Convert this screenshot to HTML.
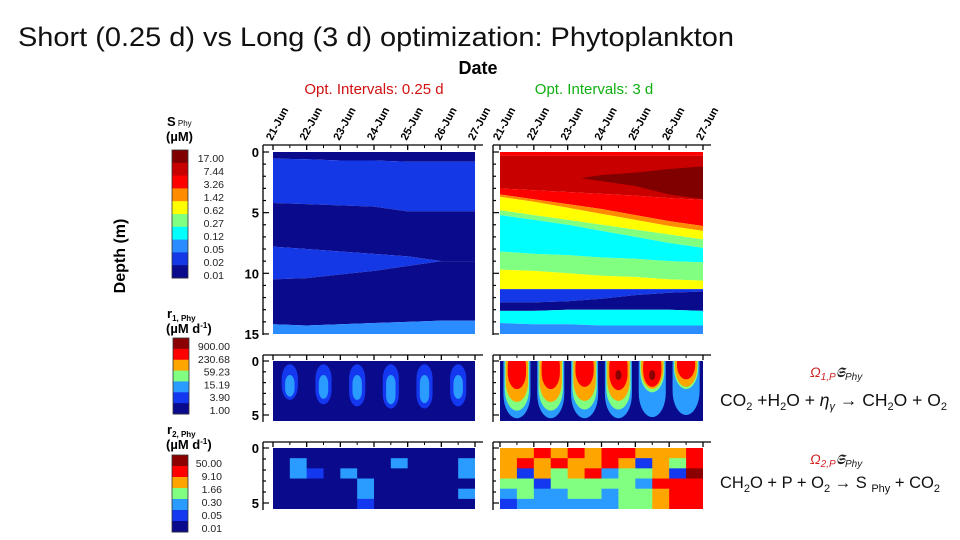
<!DOCTYPE html>
<html><head><meta charset="utf-8">
<style>
html,body{margin:0;padding:0;background:#fff;}
svg{display:block;font-family:"Liberation Sans",sans-serif;}
</style></head>
<body>
<svg id="chart" width="960" height="540" viewBox="0 0 960 540">
<text x="18" y="46" font-size="27" fill="#111" textLength="716" lengthAdjust="spacingAndGlyphs">Short (0.25 d) vs Long (3 d) optimization: Phytoplankton</text>
<text x="478" y="74" font-size="18" font-weight="bold" text-anchor="middle">Date</text>
<text x="374" y="94" font-size="15" fill="#d01010" text-anchor="middle">Opt. Intervals: 0.25 d</text>
<text x="594" y="94" font-size="15" fill="#10b010" text-anchor="middle">Opt. Intervals: 3 d</text>
<text transform="translate(125,256) rotate(-90)" font-size="16" font-weight="bold" text-anchor="middle">Depth (m)</text>
<g id="plots"></g>
<g id="legends"></g>
<g>
<text x="810" y="377" font-size="14" fill="#d02020" font-style="italic">Ω<tspan font-size="10" dy="3">1,P</tspan><tspan fill="#222" dy="-3" font-size="14">𝕾</tspan><tspan fill="#222" font-size="10" dy="3">Phy</tspan></text>
<text x="720" y="406" font-size="17.5" fill="#111">CO<tspan font-size="11" dy="4">2</tspan><tspan dy="-4"> +H</tspan><tspan font-size="11" dy="4">2</tspan><tspan dy="-4">O + </tspan><tspan font-style="italic">η</tspan><tspan font-size="11" dy="4" font-style="italic">γ</tspan><tspan dy="-4"> → CH</tspan><tspan font-size="11" dy="4">2</tspan><tspan dy="-4">O + O</tspan><tspan font-size="11" dy="4">2</tspan></text>
</g>
<g>
<text x="810" y="464" font-size="14" fill="#d02020" font-style="italic">Ω<tspan font-size="10" dy="3">2,P</tspan><tspan fill="#222" dy="-3" font-size="14">𝕾</tspan><tspan fill="#222" font-size="10" dy="3">Phy</tspan></text>
<text x="720" y="488" font-size="16.5" fill="#111">CH<tspan font-size="11" dy="4">2</tspan><tspan dy="-4">O + P + O</tspan><tspan font-size="11" dy="4">2</tspan><tspan dy="-4"> → S </tspan><tspan font-size="11" dy="4">Phy</tspan><tspan dy="-4"> + CO</tspan><tspan font-size="11" dy="4">2</tspan></text>
</g>
</svg>
<script>
// ---------- data ----------
const days = [21,22,23,24,25,26,27];
const dayLabels = ["21-Jun","22-Jun","23-Jun","24-Jun","25-Jun","26-Jun","27-Jun"];
const sColors = ["#0a0a8c","#1438e6","#2a8cff","#00ffff","#80ff80","#ffff00","#ff8c00","#ff0000","#c80000","#800000"];
const sLabels = ["17.00","7.44","3.26","1.42","0.62","0.27","0.12","0.05","0.02","0.01"];
const rColors = ["#0a0a8c","#1438f0","#2a9cff","#80ff80","#ffa500","#ff0000","#8b0000"];
const r1Labels = ["900.00","230.68","59.23","15.19","3.90","1.00"];
const r2Labels = ["50.00","9.10","1.66","0.30","0.05","0.01"];
// short S_Phy: layer levels and layer top depths at each day
const shortLevels = [0,1,0,1,0,2];
const shortTops = [
 [0,0,0,0,0,0,0],
 [0.55,0.6,0.7,0.7,0.8,0.8,0.8],
 [4.2,4.3,4.4,4.5,4.9,4.9,4.9],
 [7.8,8.0,8.2,8.4,8.6,9.0,9.0],
 [10.5,10.4,10.1,9.8,9.4,9.0,9.0],
 [14.2,14.3,14.2,14.1,14.0,13.9,13.9]
];
// long S_Phy
const longLevels = [7,8,7,6,5,4,3,4,5,1,0,3,2];
const longTops = [
 [0,0,0,0,0,0,0],
 [0.3,0.3,0.3,0.3,0.3,0.3,0.3],
 [3.0,3.15,3.3,3.45,3.6,3.8,3.95],
 [3.5,3.9,4.3,4.7,5.2,5.7,6.1],
 [3.7,4.1,4.6,5.1,5.6,6.1,6.5],
 [4.8,5.2,5.6,6.0,6.4,6.8,7.2],
 [5.2,5.6,6.0,6.5,7.0,7.5,7.9],
 [8.2,8.4,8.5,8.7,8.8,9.0,9.1],
 [9.7,9.8,10.0,10.2,10.3,10.5,10.6],
 [11.3,11.3,11.3,11.3,11.3,11.3,11.3],
 [12.4,12.4,12.3,12.1,11.8,11.6,11.5],
 [13.1,13.1,13.0,13.0,13.0,13.0,13.1],
 [14.1,14.2,14.2,14.3,14.3,14.3,14.3]
];
const longMaxDays = [23.4,24,25,26,27];
const longMaxTop = [2.15,1.9,1.7,1.4,1.2];
const longMaxBottom = [2.15,2.4,2.8,3.5,3.9];
// r1 blobs (daily production maxima)
const r1Centers = [21.5,22.5,23.5,24.5,25.5,26.5];
const r1ShortOuter = [3.6,4.0,4.2,4.4,4.4,4.2];
const r1ShortInner = [3.0,3.2,3.3,3.7,3.6,3.2];
const r1LongLightBlue = [5.3,5.3,5.3,5.3,5.2,5.0];
const r1LongGreen = [4.6,4.6,4.5,4.5,2.9,2.6];
const r1LongOrange = [3.8,3.8,3.7,3.7,2.6,2.4];
const r1LongRed = [2.6,2.6,2.4,2.7,2.4,1.7];
const r1LongDark = [0,0,0,1.3,1.3,0];
// r2 grids (rows of level indices, 12 half-day columns)
const r2Short = ["000000000000","020000020002","021020000002","000002000000","000002000002","000001000000"];
const r2Long = ["445454554445","454544541435","414345233416","331333332555","232233233455","122222233455"];

// ---------- helpers ----------
const NS="http://www.w3.org/2000/svg";
const plots=document.getElementById('plots');
const legends=document.getElementById('legends');
function mk(tag,attrs,parent){const e=document.createElementNS(NS,tag);for(const k in attrs)e.setAttribute(k,attrs[k]);parent.appendChild(e);return e;}
function scaleX(p,d){return p.x0+(d-21)/6*(p.x1-p.x0);}
function scaleY(p,z){return p.y0+z*p.py;}
const panels={
 shortTop:{x0:273,x1:475,y0:152,py:12.13,maxZ:15,fx:263,fy:145},
 longTop:{x0:500,x1:703,y0:152,py:12.13,maxZ:15,fx:493,fy:145},
 shortR1:{x0:273,x1:475,y0:361,py:10.8,maxZ:5.55,fx:263,fy:355},
 longR1:{x0:500,x1:703,y0:361,py:10.8,maxZ:5.55,fx:493,fy:355},
 shortR2:{x0:273,x1:475,y0:448,py:11,maxZ:5.55,fx:263,fy:442},
 longR2:{x0:500,x1:703,y0:448,py:11,maxZ:5.55,fx:493,fy:442}
};
function clipFor(p,id){
 const c=mk('clipPath',{id:id},plots);
 mk('rect',{x:p.x0,y:p.y0,width:p.x1-p.x0,height:p.maxZ*p.py},c);
 const g=mk('g',{'clip-path':'url(#'+id+')'},plots);
 return g;
}
function layers(p,g,levels,tops,name){
 for(let i=0;i<levels.length;i++){
  const top=tops[i];
  const bot=i+1<tops.length?tops[i+1]:days.map(()=>p.maxZ);
  let pts=[];
  days.forEach((d,j)=>pts.push(scaleX(p,d)+','+scaleY(p,top[j])));
  for(let j=days.length-1;j>=0;j--)pts.push(scaleX(p,days[j])+','+scaleY(p,bot[j]));
  const e=mk('polygon',{points:pts.join(' '),fill:sColors[levels[i]]},g);
  
  
 }
}
function frame(p,name,labels,showX){
 const g=mk('g',{},plots);
 
 
 const bottom=scaleY(p,p.maxZ);
 mk('line',{x1:p.fx,y1:p.fy,x2:p.x1+8,y2:p.fy,stroke:'#000','stroke-width':1.3},g);
 mk('line',{x1:p.fx,y1:p.fy,x2:p.fx,y2:bottom+1,stroke:'#000','stroke-width':1.3},g);
 days.forEach((d,i)=>{
  const x=scaleX(p,d);
  mk('line',{x1:x,y1:p.fy,x2:x,y2:p.fy+5,stroke:'#000','stroke-width':1.3},g);
  if(i<6)mk('line',{x1:x+(p.x1-p.x0)/12,y1:p.fy,x2:x+(p.x1-p.x0)/12,y2:p.fy+3,stroke:'#000','stroke-width':1},g);
  if(showX){
   const t=mk('text',{transform:'translate('+(x-1)+','+(p.fy-4)+') rotate(-62)','font-size':11,'font-weight':'bold'},g);
   t.textContent=dayLabels[i];
   
   
  }
 });
 for(let z=0;z<=p.maxZ;z+=1){
  const y=scaleY(p,z);
  const major=z%5===0;
  mk('line',{x1:p.fx,y1:y,x2:p.fx+(major?6:3),y2:y,stroke:'#000','stroke-width':1.2},g);
  if(major&&labels){
   const t=mk('text',{x:p.fx-4,y:y+5,'font-size':13,'font-weight':'bold','text-anchor':'end'},g);
   t.textContent=z;
   
   
  }
 }
}
// U-shaped blob: flat (clipped) top, rounded bottom
function ublob(p,g,cx,hw,z0,z1,color,name){
 const w=hw*2*(p.x1-p.x0)/6;
 const y0=scaleY(p,z0),y1=scaleY(p,z1);
 const h=y1-y0;
 const e=mk('rect',{x:scaleX(p,cx)-w/2,y:y0,width:w,height:h,rx:w/2,ry:Math.min(h/2,w*0.9),fill:color},g);
 
 
}
function grid(p,g,rows,name){
 const nr=rows.length,nc=rows[0].length;
 const cw=(p.x1-p.x0)/nc,rh=p.maxZ*p.py/nr;
 rows.forEach((row,r)=>{for(let c=0;c<nc;c++){
  const e=mk('rect',{x:p.x0+c*cw,y:p.y0+r*rh,width:cw+0.6,height:rh+0.6,fill:rColors[+row[c]]},g);
  
  
 }});
}

// ---------- S_Phy panels ----------
let g=clipFor(panels.shortTop,'c1');


layers(panels.shortTop,g,shortLevels,shortTops,'short-sphy');
g=clipFor(panels.longTop,'c2');


layers(panels.longTop,g,longLevels,longTops,'long-sphy');
{
 const p=panels.longTop;let pts=[];
 longMaxDays.forEach((d,j)=>pts.push(scaleX(p,d)+','+scaleY(p,longMaxTop[j])));
 for(let j=longMaxDays.length-1;j>=0;j--)pts.push(scaleX(p,longMaxDays[j])+','+scaleY(p,longMaxBottom[j]));
 const e=mk('polygon',{points:pts.join(' '),fill:sColors[9]},g);
 
 
}
// ---------- r1 panels ----------
g=clipFor(panels.shortR1,'c3');


mk('rect',{x:273,y:361,width:202,height:60,fill:rColors[0]},g);
r1Centers.forEach((c,i)=>{
 ublob(panels.shortR1,g,c,0.24,0.3,r1ShortOuter[i],rColors[1],'short-r1-blob');
 ublob(panels.shortR1,g,c,0.14,1.3,r1ShortInner[i]+0.3,rColors[2],'short-r1-core');
});
g=clipFor(panels.longR1,'c4');


mk('rect',{x:500,y:361,width:203,height:60,fill:rColors[0]},g);
r1Centers.forEach((c,i)=>{
 ublob(panels.longR1,g,c,0.4,-2,r1LongLightBlue[i],rColors[2],'long-r1-lightblue');
 ublob(panels.longR1,g,c,0.36,-2,r1LongGreen[i],rColors[3],'long-r1-green');
 ublob(panels.longR1,g,c,0.33,-2,r1LongOrange[i],rColors[4],'long-r1-orange');
 ublob(panels.longR1,g,c,0.27,-1,r1LongRed[i],rColors[5],'long-r1-red');
 if(r1LongDark[i]>0){
  const p=panels.longR1;
  const e=mk('ellipse',{cx:scaleX(p,c),cy:scaleY(p,r1LongDark[i]),rx:3,ry:5,fill:rColors[6]},g);
  
  
 }
});
// ---------- r2 panels ----------
g=clipFor(panels.shortR2,'c5');


grid(panels.shortR2,g,r2Short,'short-r2');
g=clipFor(panels.longR2,'c6');


grid(panels.longR2,g,r2Long,'long-r2');
// ---------- axes ----------
frame(panels.shortTop,'short-sphy',true,true);
frame(panels.longTop,'long-sphy',false,true);
frame(panels.shortR1,'short-r1',true,false);
frame(panels.longR1,'long-r1',false,false);
frame(panels.shortR2,'short-r2',true,false);
frame(panels.longR2,'long-r2',false,false);

// ---------- legends ----------
function legend(name,x,y0,y1,colors,labels,labelX,labelY0,labelStep,title,unit,ty){
 const g=mk('g',{},legends);
 
 
 const n=colors.length,h=(y1-y0)/n;
 for(let i=0;i<n;i++){
  const r=mk('rect',{x:x,y:y0+i*h,width:16,height:h+0.5,fill:colors[n-1-i]},g);
  
  
 }
 mk('rect',{x:x,y:y0,width:16,height:y1-y0,fill:'none',stroke:'#333','stroke-width':0.8},g);
 labels.forEach((l,i)=>{
  const t=mk('text',{x:labelX,y:labelY0+i*labelStep,'font-size':10.5,'text-anchor':'end',fill:'#222'},g);
  t.textContent=l;
  
  
 });
 const t1=mk('text',{x:167,y:ty,'font-size':13,'font-weight':'bold'},g);
 t1.innerHTML=title;
 const t2=mk('text',{x:166,y:ty+15,'font-size':13,'font-weight':'bold'},g);
 t2.innerHTML=unit;
}
legend('sphy-legend',172,150,278,sColors,sLabels,224,162,13,'S<tspan font-size="8" font-weight="normal"> Phy</tspan>','(µM)',126);
legend('r1-legend',173,338,414,rColors,r1Labels,230,350,12.8,'r<tspan font-size="8" dy="3">1, Phy</tspan>','(µM d<tspan font-size="8" dy="-5">-1</tspan><tspan dy="5">)</tspan>',318);
legend('r2-legend',172,455,532,rColors,r2Labels,222,467,13,'r<tspan font-size="8" dy="3">2, Phy</tspan>','(µM d<tspan font-size="8" dy="-5">-1</tspan><tspan dy="5">)</tspan>',434);
</script>
</body></html>
